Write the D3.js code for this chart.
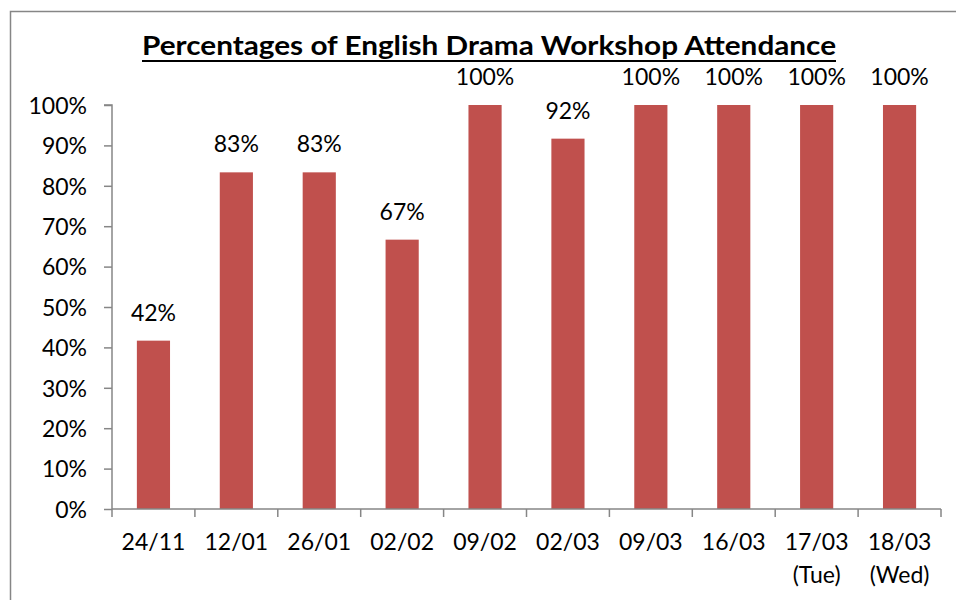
<!DOCTYPE html>
<html>
<head>
<meta charset="utf-8">
<script src="https://cdn.jsdelivr.net/npm/d3@7"></script>
<style>
  body { margin: 0; background: #fff; }
  svg { display: block; font-family: Lato, "Open Sans", sans-serif; }
</style>
</head>
<body>
<svg width="956" height="600"></svg>
<script>
// data
var dates = ["24/11", "12/01", "26/01", "02/02", "09/02", "02/03", "09/03", "16/03", "17/03", "18/03"]
var subLabels = ["", "", "", "", "", "", "", "", "(Tue)", "(Wed)"]
var attendance = [41.67, 83.33, 83.33, 66.67, 100, 91.67, 100, 100, 100, 100]
var yTicks = [0, 10, 20, 30, 40, 50, 60, 70, 80, 90, 100]

var svg = d3.select("svg")
var margin = {left: 112, right: 15, top: 105, bottom: 91}
var w = 956, h = 600

// outer chart frame
svg.append("rect")
    .attr("x", 10.5).attr("y", 11.5)
    .attr("width", 1000).attr("height", 700)
    .attr("fill", "none").attr("stroke", "#868686").attr("stroke-width", 1.5)

var xScale = d3.scaleBand()
    .domain(dates)
    .range([margin.left, w - margin.right])
    .paddingInner(0.6).paddingOuter(0.3)

var yScale = d3.scaleLinear()
    .domain([0, 100])
    .range([h - margin.bottom, margin.top])

// bars
svg.selectAll("rect.bar")
    .data(attendance)
    .enter()
    .append("rect")
    .attr("class", "bar")
    .attr("x", function(d, i){ return xScale(dates[i]) })
    .attr("width", xScale.bandwidth())
    .attr("y", function(d){ return yScale(d) })
    .attr("height", function(d){ return yScale(0) - yScale(d) })
    .attr("fill", "#C0504D")

// value labels
svg.selectAll("text.val")
    .data(attendance)
    .enter()
    .append("text")
    .attr("class", "val")
    .attr("x", function(d, i){ return xScale(dates[i]) + xScale.bandwidth() / 2 })
    .attr("y", function(d){ return yScale(d) - 20 })
    .attr("text-anchor", "middle")
    .attr("font-size", 23)
    .text(function(d){ return Math.round(d) + "%" })

// y axis
var yAxis = d3.axisLeft(yScale)
    .tickValues(yTicks)
    .tickSize(8)
    .tickFormat(function(d){ return d + "%" })
var yG = svg.append("g")
    .attr("transform", "translate(" + margin.left + ",0)")
    .call(yAxis)
yG.selectAll("path, line").attr("stroke", "#868686").attr("stroke-width", 1.5)
yG.select(".domain").attr("d", "M-8," + yScale(100) + "H0V" + yScale(0))
yG.selectAll("text")
    .attr("font-family", "Lato, sans-serif").attr("font-size", 23)
    .attr("fill", "#000").attr("x", -25).attr("dy", "0.36em")

// x axis with boundary ticks between categories
var xG = svg.append("g")
    .attr("transform", "translate(0," + yScale(0) + ")")
var step = xScale.step()
var bounds = d3.range(dates.length + 1).map(function(i){ return margin.left + i * (w - margin.left - margin.right) / dates.length })
xG.append("line")
    .attr("x1", margin.left).attr("x2", w - margin.right)
    .attr("stroke", "#868686").attr("stroke-width", 1.5)
xG.selectAll("line.tick")
    .data(bounds)
    .enter()
    .append("line")
    .attr("class", "tick")
    .attr("x1", function(d){ return d }).attr("x2", function(d){ return d })
    .attr("y1", 0).attr("y2", 8)
    .attr("stroke", "#868686").attr("stroke-width", 1.5)

var catText = xG.selectAll("text.cat")
    .data(dates)
    .enter()
    .append("text")
    .attr("class", "cat")
    .attr("text-anchor", "middle")
    .attr("font-size", 23)
    .attr("x", function(d){ return xScale(d) + xScale.bandwidth() / 2 })
    .attr("y", 41)
    .text(function(d){ return d })

xG.selectAll("text.sub")
    .data(subLabels)
    .enter()
    .append("text")
    .attr("class", "sub")
    .attr("text-anchor", "middle")
    .attr("font-size", 23)
    .attr("x", function(d, i){ return xScale(dates[i]) + xScale.bandwidth() / 2 })
    .attr("y", 74)
    .text(function(d){ return d })

// title
var title = svg.append("text")
    .attr("x", 489).attr("y", 55)
    .attr("text-anchor", "middle")
    .attr("font-size", 27)
    .attr("font-weight", "bold")
    .attr("textLength", 694)
    .attr("lengthAdjust", "spacingAndGlyphs")
    .text("Percentages of English Drama Workshop Attendance")
svg.append("line")
    .attr("x1", 142).attr("x2", 836)
    .attr("y1", 61).attr("y2", 61)
    .attr("stroke", "#000").attr("stroke-width", 2)
</script>
</body>
</html>
